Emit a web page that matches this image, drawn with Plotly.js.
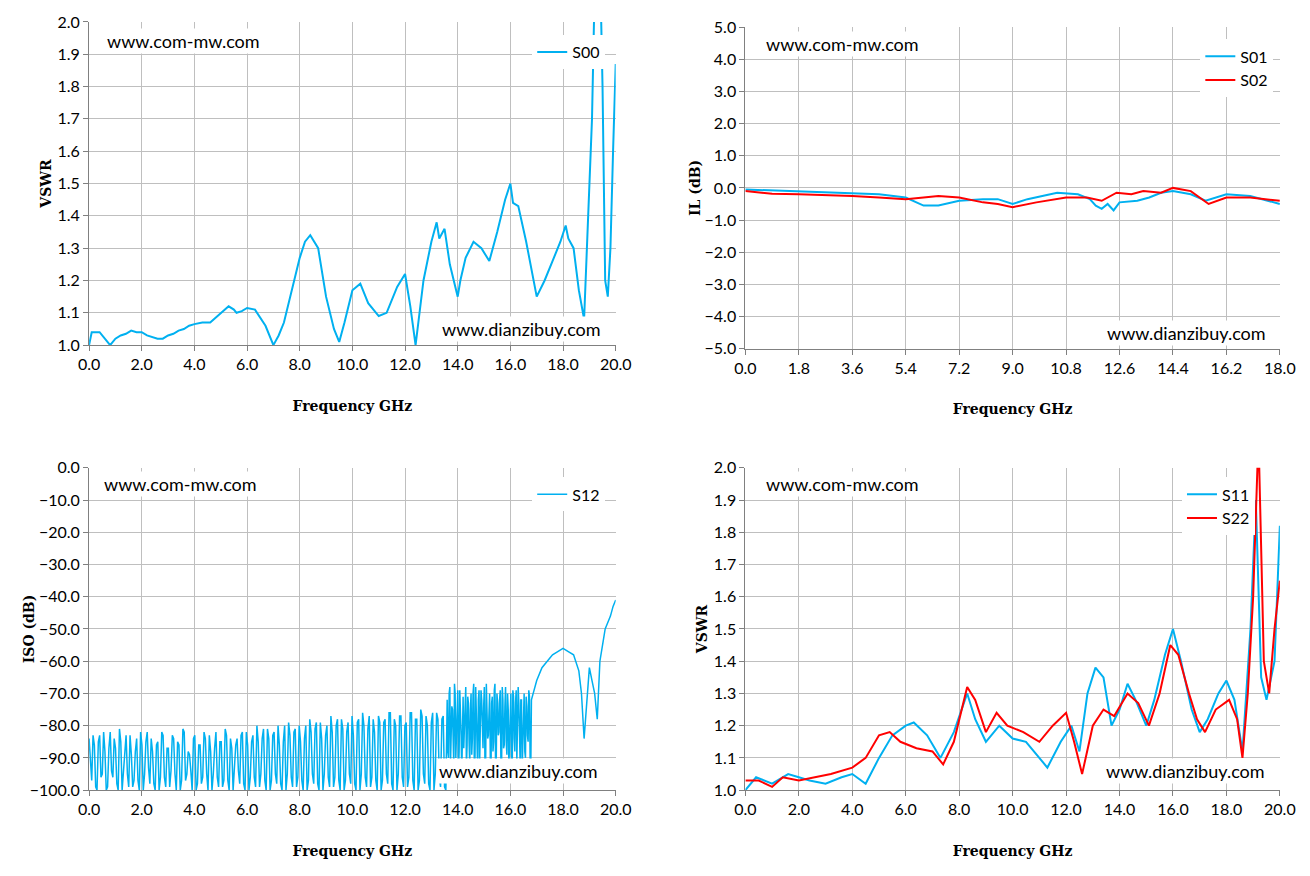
<!DOCTYPE html>
<html><head><meta charset="utf-8">
<script src="https://cdn.plot.ly/plotly-3.0.1.min.js"></script>
<style>body{margin:0;background:#fff}#c{width:1310px;height:876px}</style>
</head><body><div id="c"></div>
<script>
// S00 VSWR
const s00F=[0,0.1,0.4,0.8,1.0,1.2,1.4,1.6,1.8,2.0,2.2,2.4,2.6,2.8,3.0,3.2,3.4,3.6,3.8,4.0,4.3,4.6,4.8,5.0,5.2,5.3,5.5,5.6,5.8,6.0,6.3,6.7,7.0,7.2,7.4,7.8,8.0,8.2,8.4,8.7,9.0,9.3,9.5,9.7,10.0,10.3,10.6,11.0,11.3,11.7,12.0,12.2,12.4,12.7,13.0,13.2,13.3,13.5,13.7,14.0,14.1,14.3,14.6,14.9,15.2,15.5,15.8,16.0,16.1,16.3,16.6,17.0,17.3,17.6,17.9,18.1,18.2,18.4,18.6,18.8,18.9,19.0,19.1,19.2,19.4,19.5,19.6,19.7,19.8,19.9,20.0];
const s00V=[1.0,1.04,1.04,1.0,1.02,1.03,1.035,1.045,1.04,1.04,1.03,1.025,1.02,1.02,1.03,1.035,1.045,1.05,1.06,1.065,1.07,1.07,1.085,1.1,1.115,1.12,1.11,1.1,1.105,1.115,1.11,1.06,1.0,1.03,1.07,1.2,1.27,1.32,1.34,1.3,1.15,1.05,1.01,1.07,1.17,1.19,1.13,1.09,1.1,1.18,1.22,1.12,1.0,1.2,1.32,1.38,1.33,1.36,1.25,1.15,1.2,1.27,1.32,1.3,1.26,1.35,1.45,1.5,1.44,1.43,1.32,1.15,1.2,1.26,1.32,1.37,1.33,1.3,1.17,1.08,1.3,1.5,1.7,2.1,2.2,1.8,1.2,1.15,1.3,1.6,1.87];
// S01 / S02 IL
const s01F=[0,0.9,1.8,2.7,3.6,4.5,5.4,6.0,6.5,7.2,8.0,8.5,9.0,9.5,10.0,10.5,11.2,11.6,11.8,12.0,12.2,12.4,12.6,13.2,13.6,14.0,14.4,15.0,15.5,16.2,17.0,18.0];
const s01V=[-0.05,-0.08,-0.1,-0.12,-0.15,-0.2,-0.3,-0.55,-0.55,-0.4,-0.35,-0.35,-0.5,-0.35,-0.25,-0.15,-0.2,-0.35,-0.55,-0.65,-0.5,-0.7,-0.45,-0.4,-0.3,-0.15,-0.1,-0.2,-0.4,-0.2,-0.25,-0.5];
const s02F=[0,0.9,1.8,2.7,3.6,4.5,5.4,6.0,6.5,7.2,8.0,8.5,9.0,9.8,10.8,11.5,12.0,12.5,13.0,13.4,14.0,14.4,15.0,15.6,16.2,17.0,18.0];
const s02V=[-0.1,-0.18,-0.2,-0.22,-0.25,-0.3,-0.35,-0.3,-0.25,-0.3,-0.45,-0.5,-0.6,-0.45,-0.3,-0.3,-0.4,-0.15,-0.2,-0.1,-0.15,0.0,-0.1,-0.5,-0.3,-0.3,-0.4];
// S12 ISO (two interleaved hand-read noise passes)
const s12NoiseA=[-84,-97,-86,-100,-83,-95,-88,-99,-82,-96,-87,-100,-85,-94,-83,-99,-89,-97,-84,-100,-86,-95,-82,-98,-88,-100,-85,-96,-83,-99,-87,-94,-84,-100,-86,-97,-82,-95,-89,-100,-83,-98,-86,-96,-84,-100,-88,-95,-82,-99,-85,-97,-83,-100,-87,-94,-84,-98,-82,-100,-86,-96,-83,-99,-85,-95,-81,-100,-84,-97,-82,-98,-86,-100,-80,-95,-83,-99,-81,-96,-85,-100,-80,-97,-82,-98,-79,-100,-84,-95,-80,-99,-82,-96,-78,-100,-81,-97,-79,-98,-83,-100,-78,-95,-80,-99,-77,-96,-82,-100,-79,-97,-78,-98,-76,-100,-80,-95,-77,-99,-79,-96,-76,-100,-78,-97,-77,-98,-80,-100,-76,-95,-78,-99,-77,-100];
const s12NoiseA2=[-92,-83,-99,-85,-96,-82,-100,-87,-94,-84,-98,-81,-100,-86,-95,-83,-99,-88,-97,-82,-100,-85,-93,-84,-98,-86,-100,-82,-96,-87,-99,-83,-95,-85,-100,-81,-97,-88,-94,-84,-100,-86,-98,-82,-95,-83,-100,-87,-96,-85,-99,-81,-97,-84,-100,-86,-94,-83,-98,-82,-100,-85,-96,-80,-99,-84,-97,-81,-100,-83,-95,-80,-98,-85,-100,-79,-96,-82,-99,-80,-97,-84,-100,-78,-95,-81,-98,-79,-100,-83,-96,-77,-99,-80,-97,-78,-100,-82,-95,-77,-98,-79,-100,-76,-96,-81,-99,-78,-97,-77,-100,-79,-95,-76,-98,-78,-100,-77,-96,-80,-99,-76,-97,-78,-100,-75,-95,-77,-98,-79,-100,-76,-96,-78,-99,-77];
const s12NoiseB=[-72,-90,-68,-85,-75,-93,-70,-82,-69,-88,-74,-95,-71,-80,-68,-86,-73,-92,-70,-84,-67,-89,-75,-94,-69,-81,-72,-87,-68,-91,-74,-83,-70,-95,-71,-85,-67,-90,-73,-82,-69,-93,-72,-86,-68,-89,-75,-84,-70,-95,-71,-88,-69,-83,-73,-92,-72,-86,-70,-90,-74,-85,-71,-94];
const s12NoiseB2=[-88,-70,-92,-74,-84,-67,-90,-72,-95,-69,-83,-73,-87,-68,-93,-71,-85,-75,-89,-70,-96,-68,-82,-72,-91,-69,-86,-74,-94,-67,-84,-71,-90,-73,-88,-69,-95,-70,-83,-72,-92,-68,-87,-74,-85,-70,-93,-71,-89,-69,-84,-73,-91,-68,-86,-72,-94,-70,-88,-71,-83,-69,-90,-72];
const s12TailF=[16.8,17.0,17.2,17.4,17.6,17.8,18.0,18.2,18.4,18.6,18.7,18.8,18.9,19.0,19.1,19.2,19.3,19.4,19.5,19.6,19.7,19.8,19.9,20.0];
const s12TailV=[-72,-66,-62,-60,-58,-57,-56,-57,-58,-63,-70,-84,-72,-62,-66,-70,-78,-60,-55,-50,-48,-46,-43,-41];
// S11 / S22 VSWR
const s11F=[0,0.4,1.0,1.6,2.0,2.4,3.0,3.6,4.0,4.5,5.0,5.5,6.0,6.3,6.8,7.3,7.8,8.3,8.6,9.0,9.5,10.0,10.5,11.0,11.3,11.8,12.2,12.5,12.8,13.1,13.4,13.7,14.0,14.3,14.6,15.0,15.3,15.7,16.0,16.3,16.7,17.0,17.3,17.7,18.0,18.3,18.6,18.9,19.1,19.3,19.5,19.8,20.0];
const s11V=[1.0,1.04,1.02,1.05,1.04,1.03,1.02,1.04,1.05,1.02,1.1,1.17,1.2,1.21,1.17,1.1,1.18,1.3,1.22,1.15,1.2,1.16,1.15,1.1,1.07,1.15,1.2,1.12,1.3,1.38,1.35,1.2,1.25,1.33,1.28,1.2,1.28,1.42,1.5,1.4,1.25,1.18,1.22,1.3,1.34,1.28,1.12,1.5,1.9,1.35,1.28,1.4,1.82];
const s22F=[0,0.5,1.0,1.4,2.0,2.6,3.2,4.0,4.5,5.0,5.4,5.8,6.4,7.0,7.4,7.8,8.3,8.6,9.0,9.4,9.8,10.4,11.0,11.5,12.0,12.3,12.6,13.0,13.4,13.8,14.3,14.7,15.1,15.5,15.9,16.2,16.6,16.9,17.2,17.6,18.1,18.4,18.6,18.8,19.0,19.2,19.4,19.6,19.8,20.0];
const s22V=[1.03,1.03,1.01,1.04,1.03,1.04,1.05,1.07,1.1,1.17,1.18,1.15,1.13,1.12,1.08,1.15,1.32,1.28,1.18,1.24,1.2,1.18,1.15,1.2,1.24,1.15,1.05,1.2,1.25,1.23,1.3,1.27,1.2,1.3,1.45,1.42,1.3,1.22,1.18,1.25,1.28,1.22,1.1,1.3,1.6,2.1,1.4,1.3,1.5,1.65];

function interleave(a,b){const o=[];for(let i=0;i<a.length;i++){o.push(a[i]);if(i<b.length)o.push(b[i]);}return o;}
const nA=interleave(s12NoiseA,s12NoiseA2), nB=interleave(s12NoiseB,s12NoiseB2);
const nAF=nA.map((_,i)=>i*13.6/(nA.length-1));
const nBF=nB.map((_,i)=>13.6+i*3.2/(nB.length-1));
const s12F=nAF.concat(nBF,s12TailF), s12V=nA.concat(nB,s12TailV);

const BLUE='#00b0f0', RED='#ff0000';
const tf={family:'Lato, "Open Sans", sans-serif',size:16,color:'#000'};
const ttf={family:'"DejaVu Serif", serif',size:14,color:'#000',weight:'bold'};
function ax(dom,rng,dt,title,extra){return Object.assign({domain:dom,range:rng,dtick:dt,tick0:rng[0],tickformat:'.1f',showgrid:true,gridcolor:'#bfbfbf',gridwidth:1,showline:true,linecolor:'#808080',ticks:'outside',ticklen:5,tickcolor:'#808080',tickfont:tf,zeroline:false,fixedrange:true,title:{text:title,font:ttf}},extra||{});}
const traces=[
 {x:s00F,y:s00V,xaxis:'x',yaxis:'y',mode:'lines',name:'S00',line:{color:BLUE,width:2},legend:'legend'},
 {x:s01F,y:s01V,xaxis:'x2',yaxis:'y2',mode:'lines',name:'S01',line:{color:BLUE,width:2},legend:'legend2'},
 {x:s02F,y:s02V,xaxis:'x2',yaxis:'y2',mode:'lines',name:'S02',line:{color:RED,width:2},legend:'legend2'},
 {x:s12F,y:s12V,xaxis:'x3',yaxis:'y3',mode:'lines',name:'S12',line:{color:BLUE,width:1.5},legend:'legend3'},
 {x:s11F,y:s11V,xaxis:'x4',yaxis:'y4',mode:'lines',name:'S11',line:{color:BLUE,width:2},legend:'legend4'},
 {x:s22F,y:s22V,xaxis:'x4',yaxis:'y4',mode:'lines',name:'S22',line:{color:RED,width:2},legend:'legend4'}
];
const L=[0.068,0.470], R=[0.569,0.977], T=[0.606,0.975], B=[0.098,0.466];
const lg=(x,y)=>({x:x,y:y,xanchor:'right',yanchor:'top',bgcolor:'#fff',font:tf,borderwidth:0});
const an=(t,x,y,xa)=>({xref:'paper',yref:'paper',x:x,y:y,text:t,showarrow:false,xanchor:xa||'left',font:{family:'Lato, sans-serif',size:18,color:'#000'},bgcolor:'#fff'});
function xa(dom,rng,dt,anc){const a=ax(dom,rng,dt,'Frequency GHz',{anchor:anc});a.title.standoff=28;return a;}
const layout={width:1310,height:876,margin:{l:0,r:0,t:0,b:0},paper_bgcolor:'#fff',plot_bgcolor:'#fff',showlegend:true,
 xaxis:xa(L,[0,20],2,'y'), yaxis:ax(T,[1,2],0.1,'VSWR',{anchor:'x'}),
 xaxis2:xa(R,[0,18],1.8,'y2'), yaxis2:ax([0.602,0.969],[-5,5],1,'IL (dB)',{anchor:'x2'}),
 xaxis3:xa(L,[0,20],2,'y3'), yaxis3:ax(B,[-100,0],10,'ISO (dB)',{anchor:'x3'}),
 xaxis4:xa(R,[0,20],2,'y4'), yaxis4:ax(B,[1,2],0.1,'VSWR',{anchor:'x4'}),
 legend:lg(0.462,0.96), legend2:lg(0.972,0.955), legend3:lg(0.462,0.455), legend4:lg(0.958,0.455),
 annotations:[an('www.com-mw.com',0.08,0.968),an('www.dianzibuy.com',0.46,0.625,'right'),
  an('www.com-mw.com',0.583,0.965),an('www.dianzibuy.com',0.968,0.620,'right'),
  an('www.com-mw.com',0.078,0.447),an('www.dianzibuy.com',0.458,0.105,'right'),
  an('www.com-mw.com',0.583,0.447),an('www.dianzibuy.com',0.967,0.105,'right')]
};
Plotly.newPlot('c',traces,layout,{displayModeBar:false,staticPlot:true});
</script></body></html>
